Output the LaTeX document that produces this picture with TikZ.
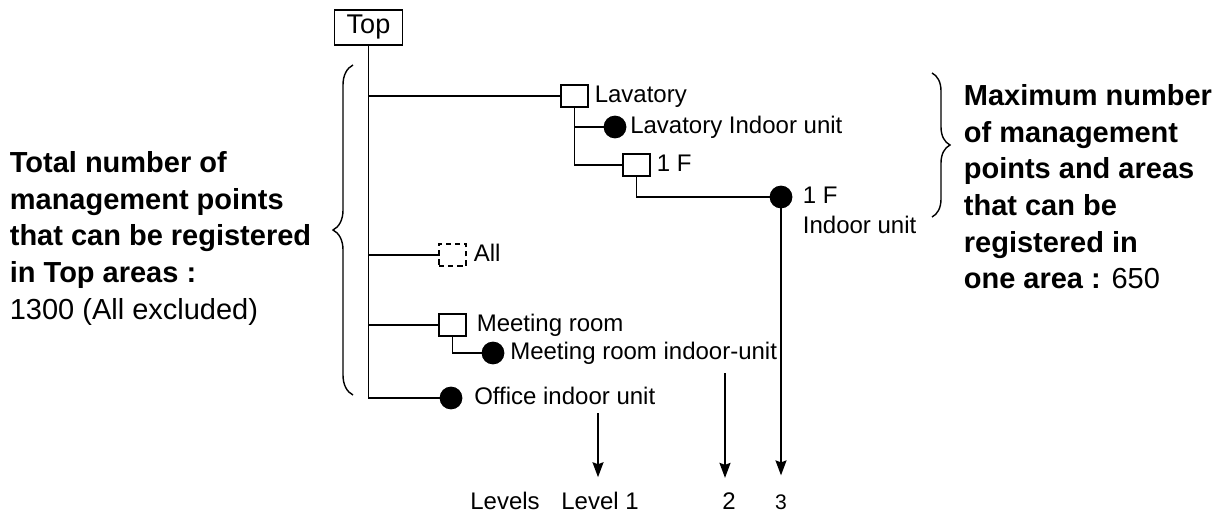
\documentclass[tikz,border=0pt]{standalone}
\usepackage{fontspec}
\setmainfont{Liberation Sans}
\usetikzlibrary{arrows.meta,decorations.pathreplacing,positioning}

\tikzset{
    areabox/.style={draw, rectangle, minimum width=0.54cm, minimum height=0.44cm, inner sep=0pt},
    allbox/.style={areabox, dash pattern=on 3pt off 2.2pt},
    unitdot/.style={draw, circle, fill=black, minimum size=0.42cm, inner sep=0pt},
    treefont/.style={font=\fontsize{13.66}{17.1}\selectfont, inner sep=0pt},
    treelabel/.style={treefont, text height=0.72em, text depth=0pt},
    lvltext/.style={treefont, anchor=base},
    notetext/.style={font=\fontsize{16.5}{20.8}\selectfont, align=left, inner sep=0pt, anchor=north west},
    lvlarrow/.style={-{Stealth[length=0.3cm, width=0.22cm, inset=0.04cm]}, shorten >=0.27cm},
    areabrace/.style={decorate, line width=0.8pt}
}

\begin{document}
\begin{tikzpicture}[x=0.02cm, y=-0.02cm, line width=1pt]
    \useasboundingbox (0,0) rectangle (1223,517);

    % Top area
    \node[draw, minimum width=1.36cm, minimum height=0.7cm, inner sep=0pt,
          font=\fontsize{15.4}{18}\selectfont] (top) at (368.5,27.5) {Top};

    % Areas and indoor units
    \node[areabox, label={[treelabel, label distance=0.1cm]right:Lavatory}] (lav) at (574.5,96) {};
    \node[unitdot, label={[treelabel, label distance=0.06cm]right:Lavatory Indoor unit}] (lavIU) at (615,127) {};
    \node[areabox, label={[treelabel, label distance=0.1cm]right:1 F}] (oneF) at (636.5,165) {};
    \node[unitdot] (oneFIU) at (781,197) {};
    \node[treefont, align=left, anchor=north west] (oneFIUtext) at (802,186) {1 F\\Indoor unit};
    \node[allbox, label={[treelabel, label distance=0.12cm]right:All}] (all) at (452.5,255) {};
    \node[areabox, label={[treelabel, label distance=0.18cm]right:Meeting room}] (meet) at (452.5,325) {};
    \node[unitdot, label={[treelabel, label distance=0.1cm]right:Meeting room indoor-unit}] (meetIU) at (493,353) {};
    \node[unitdot, label={[treelabel, label distance=0.22cm]right:Office indoor unit}] (office) at (451,398) {};

    % Tree lines
    \foreach \n in {lav, all, meet, office} {
        \draw (top.south) |- (\n.west);
    }
    \draw (lav.south) |- (lavIU.west);
    \draw (lav.south) |- (oneF.west);
    \draw (oneF.south) |- (oneFIU.west);
    \draw (meet.south) |- (meetIU.west);

    % Levels
    \node[lvltext] (lvlname) at (505,509) {Levels};
    \node[lvltext] (lvl1) at (600,509) {Level 1};
    \node[lvltext] (lvl2) at (729,509) {2};
    \node[lvltext, font=\fontsize{12}{14}\selectfont] (lvl3) at (781,509) {3};
    \coordinate (lv1top) at (598,413);
    \coordinate (lv2top) at (725,373);
    \draw[lvlarrow] (lv1top) -- (lv1top |- lvl1.north);
    \draw[lvlarrow] (lv2top) -- (lv2top |- lvl2.north);
    \draw[lvlarrow, shorten >=0.36cm] (oneFIU.center) -- (oneFIU |- lvl3.north);

    % Braces
    \coordinate (lbrbot) at (353,395);
    \coordinate (lbrtop) at (353,65);
    \coordinate (rbrtop) at (932,73);
    \coordinate (rbrbot) at (932,217);
    \draw[areabrace, decoration={brace, amplitude=0.4cm}] (lbrbot) -- (lbrtop);
    \draw[areabrace, decoration={brace, amplitude=0.36cm}] (rbrtop) -- (rbrbot);

    % Notes
    \node[notetext] (totalnote) at (9,151) {\textbf{Total number of}\\\textbf{management points}\\\textbf{that can be registered}\\\textbf{in Top areas :}\\1300 (All excluded)};
    \node[notetext] (maxnote) at (963,84) {\textbf{Maximum number}\\\textbf{of management}\\\textbf{points and areas}\\\textbf{that can be}\\\textbf{registered in}\\\textbf{one area :} 650};
\end{tikzpicture}
\end{document}
